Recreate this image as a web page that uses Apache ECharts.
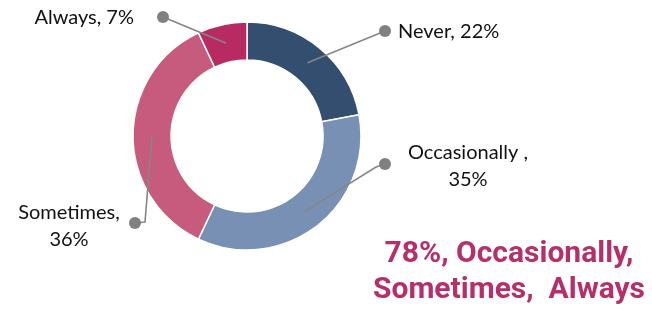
<!DOCTYPE html>
<html><head><meta charset="utf-8">
<script src="https://cdn.jsdelivr.net/npm/echarts@6/dist/echarts.min.js"></script>
<style>html,body{margin:0;padding:0;background:#fff}#c{width:652px;height:311px}</style>
</head><body><div id="c"></div>
<script>
// ---- data ----
const categories = ['Never', 'Occasionally', 'Sometimes', 'Always'];
const percentValues = [22, 35, 36, 7];
const labelTexts = ['Never, 22%', 'Occasionally ,\n35%', 'Sometimes,\n36%', 'Always, 7%'];
const headlineLines = ['78%, Occasionally,', 'Sometimes,  Always'];

// ---- styles / layout ----
const sliceColors = ['#344e70', '#7890b4', '#c75b7d', '#b82a62'];
const center = [247, 136];
const dotPos = [[385, 31], [385, 164], [135, 223], [163, 17]];
const lineBend = [null, [376, 167], [145, 222], null];
const textPos = [
  {x: 398, y: 32, align: 'left'},
  {x: 468, y: 166, align: 'center'},
  {x: 69, y: 226, align: 'center'},
  {x: 134, y: 18, align: 'right'}
];
const labelFont = 'Lato';

const chart = echarts.init(document.getElementById('c'));
const pieData = categories.map((c, i) => ({
  name: c, value: percentValues[i], itemStyle: {color: sliceColors[i]}
}));

chart.setOption({
  animation: false,
  series: [
    {
      type: 'pie', radius: [76, 114], center: center, startAngle: 90, clockwise: true,
      avoidLabelOverlap: false, silent: true,
      itemStyle: {borderColor: '#fff', borderWidth: 1.5},
      label: {
        show: true, position: 'outside',
        formatter: p => labelTexts[p.dataIndex],
        fontFamily: labelFont, fontSize: 20, color: '#111', lineHeight: 27
      },
      labelLine: {show: false},
      labelLayout: p => {
        const t = textPos[p.dataIndex];
        return {x: t.x, y: t.y, align: t.align, verticalAlign: 'middle'};
      },
      data: pieData
    },
    {
      type: 'pie', radius: [0, 95], center: center, startAngle: 90, clockwise: true,
      avoidLabelOverlap: false, silent: true, z: 5,
      itemStyle: {color: 'rgba(0,0,0,0)', borderWidth: 0},
      label: {
        show: true, position: 'outside', formatter: '{d| }',
        rich: {d: {width: 12, height: 12, borderRadius: 6, backgroundColor: '#808080'}}
      },
      labelLine: {show: true, length: 10, length2: 10, lineStyle: {color: '#868686', width: 1.6}},
      labelLayout: p => {
        const i = p.dataIndex;
        const d = dotPos[i];
        const s = p.labelLinePoints ? p.labelLinePoints[0] : d;
        const pts = lineBend[i] ? [s, lineBend[i], d] : [s, d];
        return {x: d[0], y: d[1], align: 'center', verticalAlign: 'middle', labelLinePoints: pts};
      },
      data: categories.map((c, i) => ({name: c, value: percentValues[i]}))
    }
  ],
  graphic: [{
    type: 'text', x: 509, y: 236,
    style: {
      text: headlineLines.join('\n'), align: 'center', verticalAlign: 'top',
      fill: '#b5306a', font: 'bold 30px Roboto', lineHeight: 36
    }
  }]
});
</script></body></html>
